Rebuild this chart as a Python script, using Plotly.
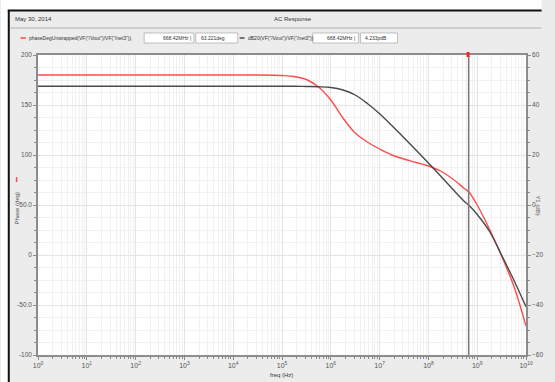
import plotly.graph_objects as go

# ---- data ----
freq_hz = [1, 10, 100, 1e3, 1e4, 3.16e4, 1e5, 1.78e5, 3.16e5, 5.62e5,
           1e6, 1.78e6, 3.16e6, 5.62e6, 1e7, 1.78e7, 3.16e7, 5.62e7,
           1e8, 1.78e8, 3.16e8, 5.62e8, 6.6842e8, 1e9, 1.78e9, 3.16e9, 5.62e9, 1e10]
phase_deg = [180, 180, 180, 180, 180, 180, 179.5, 178.5, 175.5, 168,
             155, 137, 122, 113, 106, 100, 96, 92.5,
             89, 84, 76, 66, 63.2, 50, 26, -1, -31, -71]
gain_db = [47.5, 47.5, 47.5, 47.5, 47.5, 47.5, 47.5, 47.5, 47.4, 47.3,
           47.0, 46.0, 44.0, 40.6, 36.5, 31.8, 26.9, 21.9,
           16.8, 11.6, 6.3, 1.2, 0.0, -3.8, -10.5, -20.0, -30.0, -40.7]
cursor_freq = 6.6842e8

x_tickvals = [1, 10, 100, 1e3, 1e4, 1e5, 1e6, 1e7, 1e8, 1e9, 1e10]
x_ticktext = ["10<sup>%d</sup>" % i for i in range(11)]
y1_tickvals = [-100, -50, 0, 50, 100, 150, 200]
y1_ticktext = ["-100", "-50.0", "0", "50.0", "100", "150", "200"]
y2_tickvals = [-60, -40, -20, 0, 20, 40, 60]

W, H = 555, 382
L, R, T, B = 38, 539, 55, 355

def px(x):
    return (x - L) / (R - L)

def py(y):
    return (B - y) / (B - T)

FONT = "Liberation Sans"
GRID = "#e4e4e4"
MINOR = "#f1f1f1"
AX = "#8c8c8c"

fig = go.Figure()
fig.add_trace(go.Scatter(x=freq_hz, y=phase_deg, mode="lines",
                         line=dict(color="#ff4b4b", width=1.4, shape="spline"),
                         yaxis="y", showlegend=False))
fig.add_trace(go.Scatter(x=freq_hz, y=gain_db, mode="lines",
                         line=dict(color="#4a4a4a", width=1.4, shape="spline"),
                         yaxis="y2", showlegend=False))

shapes = []
shapes.append(dict(type="rect", xref="paper", yref="paper", x0=px(0), x1=px(W), y0=py(0), y1=py(10),
                   fillcolor="white", line=dict(width=0), layer="below"))
shapes.append(dict(type="rect", xref="paper", yref="paper", x0=px(0), x1=px(7), y0=py(0), y1=py(H),
                   fillcolor="white", line=dict(width=0), layer="below"))
shapes.append(dict(type="line", xref="paper", yref="paper", x0=px(7), x1=px(W), y0=py(10.5), y1=py(10.5),
                   line=dict(color="#111", width=2)))
shapes.append(dict(type="line", xref="paper", yref="paper", x0=px(8), x1=px(8), y0=py(10), y1=py(H),
                   line=dict(color="#111", width=2)))
shapes.append(dict(type="line", xref="paper", yref="paper", x0=px(9), x1=px(W), y0=py(28), y1=py(28),
                   line=dict(color="#b0b0b0", width=1)))
shapes.append(dict(type="line", xref="paper", yref="paper", x0=px(20), x1=px(25.5), y0=py(38), y1=py(38),
                   line=dict(color="#ff4b4b", width=1.5)))
shapes.append(dict(type="line", xref="paper", yref="paper", x0=px(245), x1=px(250), y0=py(38), y1=py(38),
                   line=dict(color="#4a4a4a", width=1.5)))
for x0, x1 in [(147, 198), (200, 243), (320, 367), (369, 407)]:
    shapes.append(dict(type="rect", xref="paper", yref="paper", x0=px(x0), x1=px(x1), y0=py(33), y1=py(43),
                       fillcolor="white", line=dict(color="#9a9a9a", width=0.6)))
shapes.append(dict(type="line", xref="x", yref="paper", x0=cursor_freq, x1=cursor_freq, y0=0, y1=1,
                   line=dict(color="#7a7a7a", width=1.5)))
shapes.append(dict(type="rect", xref="paper", yref="paper", x0=px(478), x1=px(481), y0=py(52), y1=py(57),
                   fillcolor="#ff2020", line=dict(width=0)))
shapes.append(dict(type="line", xref="paper", yref="paper", x0=px(16), x1=px(16), y0=py(177), y1=py(182),
                   line=dict(color="#ff4b4b", width=1.5)))

ann = []
def text(x, y, s, size=6, anchor="left", color="#333", angle=0):
    ann.append(dict(xref="paper", yref="paper", x=px(x), y=py(y), text=s, showarrow=False,
                    xanchor=anchor, yanchor="middle", textangle=angle,
                    font=dict(family=FONT, size=size, color=color)))

text(12, 19, "May 30, 2014", 6)
text(300, 19, "AC Response", 6, anchor="center")
text(27, 38, 'phaseDegUnwrapped(VF("/Vout")/VF("/net3"))', 5)
text(197, 38, "668.42MHz |", 5, anchor="right")
text(203, 38, "63.221deg", 5)
text(252, 38, 'dB20(VF("/Vout")/VF("/net3"))', 5)
text(366, 38, "668.42MHz |", 5, anchor="right")
text(372, 38, "4.233pdB", 5)
text(288, 375, "freq (Hz)", 6, anchor="center")
text(16, 208, "Phase (deg)", 6, anchor="center", angle=-90, color="#555")
text(551, 205, "Y1 (dB)", 6, anchor="center", angle=90, color="#555")

fig.update_layout(
    width=W, height=H,
    margin=dict(l=L, r=W - R, t=T, b=H - B, pad=0),
    paper_bgcolor="#ececec", plot_bgcolor="white",
    showlegend=False,
    shapes=shapes, annotations=ann,
    font=dict(family=FONT, size=7, color="#555"),
    xaxis=dict(type="log", range=[0, 10], tickvals=x_tickvals, ticktext=x_ticktext,
               showgrid=True, gridcolor=GRID, gridwidth=1,
               showline=True, linecolor=AX, linewidth=1.5, mirror=True,
               ticks="outside", ticklen=3, tickcolor=AX,
               tickfont=dict(size=7, color="#555"),
               minor=dict(showgrid=True, gridcolor=MINOR, ticks="outside", ticklen=2,
                          tickcolor=AX, dtick="D1"),
               zeroline=False),
    yaxis=dict(range=[-100, 200], tickvals=y1_tickvals, ticktext=y1_ticktext,
               showgrid=True, gridcolor=GRID, gridwidth=1,
               showline=True, linecolor=AX, linewidth=1.5,
               ticks="outside", ticklen=3, tickcolor=AX,
               tickfont=dict(size=6.5, color="#555"),
               minor=dict(dtick=12.5, showgrid=True, gridcolor=MINOR, ticks="outside",
                          ticklen=2, tickcolor=AX),
               zeroline=False),
    yaxis2=dict(range=[-60, 60], tickvals=y2_tickvals, overlaying="y", side="right",
                showgrid=False, showline=True, linecolor=AX, linewidth=1.5,
                ticks="outside", ticklen=3, tickcolor=AX,
                tickfont=dict(size=6.5, color="#555"),
                minor=dict(dtick=5, ticks="outside", ticklen=2, tickcolor=AX),
                zeroline=False),
)

fig.write_html("out.html", config={"displayModeBar": False},
               post_script="document.body.style.margin='0';document.body.style.overflow='hidden';")
